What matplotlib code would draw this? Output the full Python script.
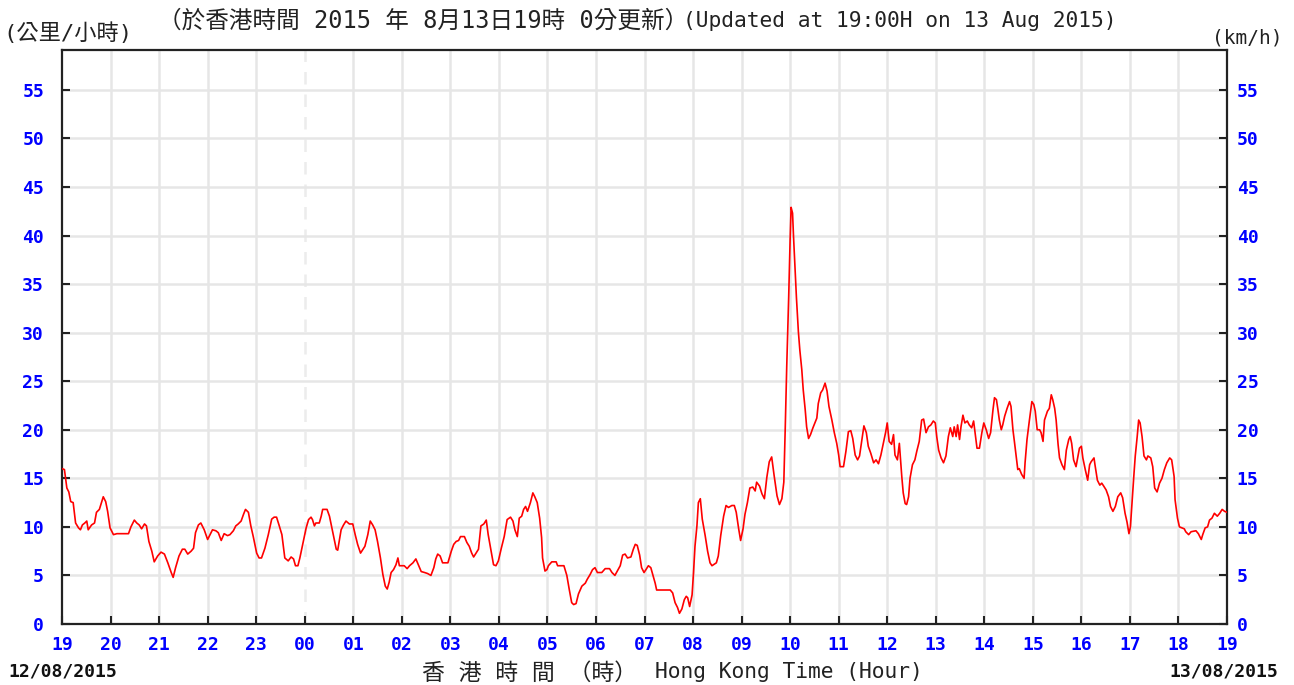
import matplotlib
matplotlib.use("Agg")
import matplotlib.pyplot as plt

# Hours elapsed since 19:00 on 12/08/2015 and the wind speed (km/h) at each time
hours_since_19 = [
    0.00, 0.05, 0.10, 0.14, 0.18, 0.23, 0.28, 0.34, 0.38, 0.42, 0.47, 0.51, 0.54, 0.61, 0.67,
    0.71, 0.77, 0.80, 0.85, 0.90, 0.94, 0.99, 1.06, 1.13, 1.37, 1.42, 1.49, 1.54, 1.59, 1.64,
    1.70, 1.74, 1.79, 1.85, 1.90, 1.97, 2.04, 2.11, 2.18, 2.25, 2.29, 2.34, 2.41, 2.48, 2.53,
    2.59, 2.66, 2.71, 2.75, 2.81, 2.86, 2.93, 3.00, 3.05, 3.10, 3.17, 3.22, 3.28, 3.34, 3.41,
    3.46, 3.53, 3.58, 3.63, 3.69, 3.74, 3.78, 3.84, 3.89, 3.94, 4.01, 4.06, 4.11, 4.18, 4.25,
    4.32, 4.37, 4.42, 4.47, 4.53, 4.59, 4.66, 4.72, 4.77, 4.81, 4.86, 4.90, 4.95,
    5.03, 5.08, 5.13, 5.16, 5.20, 5.23, 5.30, 5.34, 5.37, 5.46, 5.51, 5.56, 5.61, 5.65, 5.68,
    5.71, 5.75, 5.80, 5.85, 5.92, 5.99, 6.04, 6.09, 6.15, 6.20, 6.24, 6.30, 6.35, 6.40, 6.45,
    6.50, 6.56, 6.61, 6.66, 6.70, 6.74, 6.78, 6.83, 6.88, 6.92, 6.95, 7.05, 7.11, 7.16, 7.23,
    7.29, 7.34, 7.40, 7.47, 7.53, 7.60, 7.66, 7.70, 7.74, 7.79, 7.84, 7.95, 8.02, 8.07, 8.12,
    8.17, 8.21, 8.29, 8.34, 8.39, 8.44, 8.48, 8.53, 8.58, 8.63, 8.69, 8.74, 8.78, 8.84, 8.89,
    8.94, 8.99, 9.05, 9.11, 9.17, 9.24, 9.29, 9.33, 9.38, 9.42, 9.47, 9.51, 9.55, 9.59, 9.65,
    9.70, 9.74, 9.79, 9.84, 9.88,
    9.90, 9.95, 9.99, 10.02, 10.09, 10.18, 10.21, 10.34, 10.40, 10.45, 10.50, 10.54, 10.59,
    10.64, 10.71, 10.78, 10.82, 10.88, 10.93, 10.98, 11.03, 11.12, 11.19, 11.28, 11.33, 11.39,
    11.44, 11.50, 11.55, 11.60, 11.65, 11.72, 11.77, 11.81, 11.85, 11.90, 11.94, 11.99, 12.03,
    12.08, 12.13, 12.17, 12.22, 12.25, 12.53, 12.58, 12.63, 12.68, 12.72, 12.77, 12.82, 12.86,
    12.89, 12.93, 12.98, 13.01, 13.04, 13.08, 13.11, 13.15, 13.19, 13.25, 13.30, 13.35, 13.39,
    13.48, 13.52, 13.57, 13.63, 13.68, 13.73, 13.80, 13.85, 13.89, 13.94, 13.98, 14.03, 14.07,
    14.12, 14.17, 14.23, 14.28, 14.31, 14.37, 14.42, 14.47, 14.52, 14.57, 14.62, 14.67, 14.73,
    14.78, 14.83, 14.87,
    14.90, 14.93, 14.97, 15.00, 15.02, 15.05, 15.07, 15.10, 15.13, 15.17, 15.20, 15.24, 15.27,
    15.31, 15.34, 15.38, 15.42, 15.47, 15.51, 15.55, 15.58, 15.63, 15.67, 15.72, 15.76, 15.80,
    15.86, 15.91, 15.96,
    16.00, 16.03, 16.10, 16.15, 16.20, 16.25, 16.29, 16.34, 16.39, 16.43, 16.48, 16.52, 16.57,
    16.61, 16.66, 16.72, 16.77, 16.82, 16.87, 16.92, 16.97, 17.00, 17.04, 17.09, 17.13, 17.16,
    17.21, 17.25, 17.30, 17.33, 17.37, 17.40, 17.44, 17.47, 17.52, 17.57, 17.61, 17.66, 17.71,
    17.75, 17.80, 17.85, 17.90, 17.95, 17.99, 18.02, 18.06, 18.11, 18.16, 18.21, 18.26, 18.30,
    18.35, 18.38, 18.42, 18.45, 18.49, 18.52, 18.56, 18.60, 18.65, 18.69, 18.74, 18.78, 18.81,
    18.85, 18.90, 18.95, 18.99, 19.04, 19.09, 19.13, 19.18, 19.21, 19.25, 19.28, 19.31, 19.35,
    19.38, 19.42, 19.47, 19.52, 19.55, 19.59, 19.62, 19.66, 19.69, 19.72, 19.77, 19.82, 19.84,
    19.88, 19.93, 19.98, 20.02, 20.05, 20.09, 20.14, 20.17, 20.21, 20.24, 20.30, 20.34, 20.38,
    20.41, 20.45, 20.48, 20.52, 20.55, 20.60, 20.65, 20.69, 20.74, 20.77, 20.80, 20.84, 20.89,
    20.93, 20.96, 21.00, 21.03, 21.08, 21.13, 21.17, 21.20, 21.26, 21.28, 21.33, 21.38, 21.42,
    21.46, 21.51, 21.56, 21.60, 21.65, 21.70, 21.75, 21.81, 21.85, 21.90, 21.94, 21.98, 22.01,
    22.04, 22.08, 22.11, 22.15, 22.18, 22.21, 22.25, 22.29, 22.34, 22.37, 22.43, 22.47, 22.51,
    22.56, 22.61, 22.66, 22.71, 22.76, 22.82, 22.86, 22.91, 22.93, 22.98, 23.02, 23.12, 23.15,
    23.21, 23.26, 23.36, 23.41, 23.47, 23.50, 23.55, 23.60, 23.64, 23.69, 23.74, 23.80, 23.85,
    23.90, 23.95, 24.00,
]

speed_kmh = [
    16.0, 15.9, 14.0, 13.6, 12.6, 12.5, 10.4, 9.9, 9.7, 10.2, 10.4, 10.6, 9.7, 10.2, 10.4,
    11.5, 11.8, 12.3, 13.1, 12.6, 11.6, 9.9, 9.2, 9.3, 9.3, 10.0, 10.7, 10.4, 10.2, 9.8,
    10.3, 10.1, 8.5, 7.5, 6.4, 7.0, 7.4, 7.2, 6.3, 5.3, 4.8, 5.8, 7.0, 7.7, 7.7,
    7.2, 7.5, 7.8, 9.4, 10.2, 10.4, 9.7, 8.7, 9.2, 9.7, 9.6, 9.4, 8.6, 9.3, 9.1,
    9.2, 9.6, 10.1, 10.3, 10.6, 11.3, 11.8, 11.5, 10.1, 9.0, 7.3, 6.8, 6.8, 7.8, 9.2,
    10.8, 11.0, 11.0, 10.2, 9.2, 6.8, 6.5, 6.9, 6.7, 6.0, 6.0, 6.8, 8.0,
    9.9, 10.75, 11.0, 10.75, 10.1, 10.4, 10.4, 11.1, 11.8, 11.8, 11.1, 9.9, 8.7, 7.7, 7.6,
    8.5, 9.7, 10.2, 10.6, 10.3, 10.3, 9.2, 8.2, 7.3, 7.7, 8.0, 9.2, 10.6, 10.2, 9.7,
    8.5, 6.8, 5.1, 3.9, 3.6, 4.3, 5.3, 5.6, 6.1, 6.8, 6.0, 6.0, 5.7, 6.0, 6.3,
    6.7, 6.1, 5.4, 5.3, 5.2, 5.0, 5.8, 6.7, 7.2, 7.0, 6.3, 6.3, 7.5, 8.2, 8.5,
    8.6, 9.0, 9.0, 8.4, 8.0, 7.3, 6.9, 7.3, 7.7, 10.1, 10.3, 10.7, 9.2, 7.5, 6.1,
    6.0, 6.5, 7.8, 9.0, 10.75, 11.0, 10.6, 9.7, 9.0, 10.9, 11.1, 11.8, 12.1, 11.6, 12.5,
    13.5, 13.1, 12.5, 10.9, 8.9,
    6.8, 5.45, 5.6, 6.0, 6.4, 6.4, 6.0, 6.0, 5.0, 3.55, 2.2, 2.0, 2.1,
    3.1, 3.9, 4.2, 4.6, 5.1, 5.6, 5.8, 5.3, 5.3, 5.7, 5.7, 5.3, 5.0,
    5.45, 6.0, 7.1, 7.2, 6.8, 6.9, 7.7, 8.2, 8.1, 7.1, 5.8, 5.3, 5.6,
    6.0, 5.8, 5.1, 4.2, 3.5, 3.5, 3.2, 2.2, 1.7, 1.1, 1.55, 2.5, 2.85,
    2.7, 1.8, 3.0, 5.3, 8.0, 10.1, 12.5, 12.9, 10.8, 9.1, 7.5, 6.3, 6.0,
    6.3, 7.0, 9.1, 11.1, 12.2, 12.0, 12.2, 12.2, 11.5, 9.8, 8.6, 9.8, 11.3,
    12.5, 14.0, 14.1, 13.7, 14.6, 14.2, 13.4, 12.9, 15.1, 16.7, 17.2, 15.3, 13.2,
    12.3, 12.9, 14.6,
    20.3, 26.5, 33.6, 39.6, 42.9, 42.3, 39.9, 36.8, 33.6, 30.1, 28.2, 26.2, 24.1,
    22.1, 20.3, 19.1, 19.5, 20.2, 20.7, 21.2, 22.7, 23.8, 24.1, 24.8, 24.0, 22.4,
    21.0, 19.7, 18.6,
    17.4, 16.2, 16.2, 17.8, 19.8, 19.9, 19.1, 17.4, 16.9, 17.3, 19.0, 20.4, 19.7,
    18.3, 17.6, 16.6, 16.9, 16.5, 17.4, 18.6, 19.8, 20.7, 18.8, 18.5, 19.5, 17.4,
    16.9, 18.6, 15.2, 13.5, 12.4, 12.3, 13.1, 15.0, 16.4, 16.9, 17.8, 18.8, 21.0,
    21.1, 19.7, 20.3, 20.5, 20.9, 20.7, 19.3, 17.9, 17.1, 16.6, 17.3, 19.3, 20.2,
    19.3, 20.3, 19.3, 20.5, 19.0, 20.3, 21.5, 20.7, 20.9, 20.5, 20.2, 20.9, 19.7,
    18.1, 18.1, 19.7, 20.7, 20.0, 19.1, 19.7, 22.1, 23.3, 23.1, 22.1, 21.0, 20.0,
    20.5, 21.4, 22.2, 22.9, 22.4, 20.0, 18.8, 17.1, 15.9, 16.0, 15.4, 15.0, 16.6,
    19.0, 21.0, 22.9, 22.6, 21.9, 20.0, 20.0, 19.7, 18.8, 21.0, 21.9, 22.2, 23.6,
    23.1, 22.2, 21.0, 18.5, 17.1, 16.4, 15.9, 17.9, 19.0, 19.3, 18.6, 16.9, 16.2,
    17.3, 18.1, 18.3, 17.1, 15.9, 14.8, 16.4, 16.7, 17.1, 16.4, 14.8, 14.3, 14.5,
    14.2, 13.8, 13.1, 12.1, 11.6, 12.1, 13.1, 13.5, 13.0, 11.4, 10.5, 9.3, 10.0,
    12.3, 15.2, 17.3, 19.3, 21.0, 20.7, 19.3, 17.3, 16.9, 17.3, 17.1, 16.2, 14.0,
    13.6, 14.5, 15.0, 15.9, 16.6, 17.1, 16.9, 15.2, 12.8, 10.9, 10.0, 9.8, 9.5,
    9.2, 9.5, 9.6, 9.3, 8.7, 9.2, 9.9, 10.0, 10.7, 10.9, 11.4, 11.1, 11.4,
    11.8, 11.6, 11.5,
]

hour_labels = ["19", "20", "21", "22", "23", "00", "01", "02", "03", "04", "05", "06", "07",
               "08", "09", "10", "11", "12", "13", "14", "15", "16", "17", "18", "19"]
speed_ticks = list(range(0, 60, 5))

start_date = "12/08/2015"
end_date = "13/08/2015"

BLUE = "#0000ff"
MONO = "DejaVu Sans Mono"
CJK = "Noto Sans CJK TC"
MIXED = [MONO, CJK]

W, H = 1294, 685
fig = plt.figure(figsize=(W / 100, H / 100), dpi=100)
fig.patch.set_facecolor("white")

ax = fig.add_axes([62 / W, 61 / H, 1165 / W, 574 / H])
ax.set_xlim(0, 24)
ax.set_ylim(0, 59.1)

# grid: solid hourly lines, the midnight one dashed
for i in range(1, len(hour_labels) - 1):
    ls = (0, (5, 4)) if hour_labels[i] == "00" else "-"
    col = "#ececec" if hour_labels[i] == "00" else "#e6e6e6"
    ax.axvline(i, color=col, lw=1.8, ls=ls, zorder=0)
for v in speed_ticks[1:]:
    ax.axhline(v, color="#e6e6e6", lw=1.8, zorder=0)

ax.plot(hours_since_19, speed_kmh, color="#ff0000", lw=1.2, zorder=3)

for s in ax.spines.values():
    s.set_color("#222222")
    s.set_linewidth(1.6)

ax.set_xticks(range(len(hour_labels)))
ax.set_xticklabels(hour_labels)
ax.set_yticks(speed_ticks)
ax.set_yticklabels([str(v) for v in speed_ticks])
ax.tick_params(axis="x", direction="in", length=6, width=1.5, color="#222222",
               pad=9, labelcolor=BLUE, labelsize=13)
ax.tick_params(axis="y", direction="in", length=6, width=1.5, color="#222222",
               pad=13, labelcolor=BLUE, labelsize=13, left=True, right=False)
for lab in ax.get_xticklabels() + ax.get_yticklabels():
    lab.set_fontfamily(MONO)
    lab.set_fontweight("bold")

ax2 = ax.twinx()
ax2.set_ylim(ax.get_ylim())
ax2.set_yticks(speed_ticks)
ax2.set_yticklabels([str(v) for v in speed_ticks])
ax2.tick_params(axis="y", direction="in", length=6, width=1.5, color="#222222",
                pad=7, labelcolor=BLUE, labelsize=13)
for lab in ax2.get_yticklabels():
    lab.set_fontfamily(MONO)
    lab.set_fontweight("bold")
for s in ax2.spines.values():
    s.set_visible(False)

# header texts
fig.text(3 / W, 1 - 33 / H, "(公里/小時)", family=MIXED, fontsize=16,
         color="#222222", ha="left", va="center")
fig.text(158 / W, 1 - 21 / H, "（於香港時間 2015 年 8月13日19時 0分更新）",
         family=MIXED, fontsize=17, color="#222222", ha="left", va="center")
fig.text(683 / W, 1 - 21 / H, "(Updated at 19:00H on 13 Aug 2015)",
         family=MIXED, fontsize=15.3, color="#222222", ha="left", va="center")
fig.text(1282 / W, 1 - 38 / H, "(km/h)", family=MONO, fontsize=14,
         color="#222222", ha="right", va="center")

# footer texts
fig.text(8 / W, 1 - 672 / H, start_date, family=MONO, fontweight="bold",
         fontsize=13, color="#111111", ha="left", va="center")
fig.text(1278 / W, 1 - 672 / H, end_date, family=MONO, fontweight="bold",
         fontsize=13, color="#111111", ha="right", va="center")
fig.text(422 / W, 1 - 673 / H, "香 港 時 間 （時）", family=MIXED, fontsize=16.5,
         color="#222222", ha="left", va="center")
fig.text(655 / W, 1 - 672 / H, "Hong Kong Time (Hour)", family=MONO, fontsize=15.3,
         color="#222222", ha="left", va="center")

fig.savefig("out.png", dpi=100, facecolor="white")
